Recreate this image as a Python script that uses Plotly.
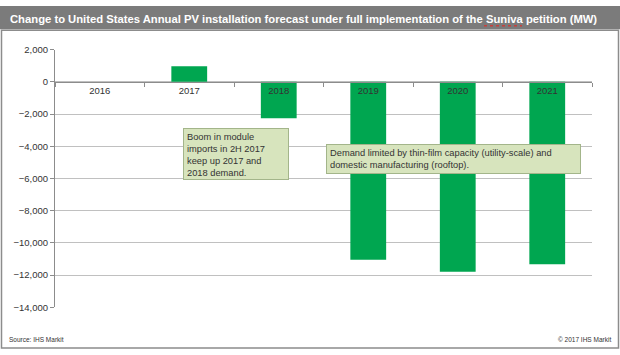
import plotly.graph_objects as go

years = ["2016", "2017", "2018", "2019", "2020", "2021"]
change_mw = [0, 960, -2260, -11050, -11790, -11330]
y_ticks = [2000, 0, -2000, -4000, -6000, -8000, -10000, -12000, -14000]

title_text = "Change to United States Annual PV installation forecast under full implementation of the Suniva petition (MW)"
note1 = "Boom in module<br>imports in 2H 2017<br>keep up 2017 and<br>2018 demand."
note2 = "Demand limited by thin-film capacity (utility-scale) and<br>domestic manufacturing (rooftop)."
source_text = "Source: IHS Markit"
copyright_text = "© 2017 IHS Markit"

W, H = 620, 355
def px(x):
    return x / W
def py(y):
    return 1 - y / H

FONT = "Liberation Sans, Arial, sans-serif"
TXT = "#333333"

y0d, y1d = py(311), py(45)
ymin, ymax = -14000, 2000
zero_pos = y0d + (0 - ymin) / (ymax - ymin) * (y1d - y0d)

fig = go.Figure()
fig.add_trace(go.Bar(x=years, y=change_mw, marker=dict(color="#00A650", line=dict(width=0)),
                     hoverinfo="x+y"))

fig.update_layout(
    width=W, height=H, autosize=False,
    margin=dict(l=0, r=0, t=0, b=0),
    paper_bgcolor="white", plot_bgcolor="white",
    showlegend=False, bargap=0.6,
    font=dict(family=FONT, color=TXT),
    xaxis=dict(domain=[px(55), px(592)], anchor="free", position=zero_pos,
               type="category", showline=True, linecolor="#8c8c8c", linewidth=1,
               ticks="outside", tickson="boundaries", ticklen=4, tickcolor="#8c8c8c",
               tickfont=dict(size=9.5, color=TXT), showgrid=False, fixedrange=True),
    yaxis=dict(domain=[y0d, y1d], range=[ymin, ymax], tickvals=y_ticks,
               tickformat=",", showgrid=True, gridcolor="#c0c0c0", gridwidth=1,
               showline=True, linecolor="#8c8c8c", linewidth=1, ticks="outside",
               ticklen=4, tickcolor="#8c8c8c", zeroline=False,
               tickfont=dict(size=9.5, color=TXT), fixedrange=True),
)

shapes = [
    dict(type="rect", xref="paper", yref="paper", x0=px(1.5), x1=px(618.5), y0=py(353), y1=py(25),
         line=dict(color="#8c8c8c", width=1.5), fillcolor="rgba(0,0,0,0)", layer="below"),
    dict(type="rect", xref="paper", yref="paper", x0=0, x1=1, y0=py(24), y1=1,
         line=dict(width=0), fillcolor="#7b7b7b", layer="below"),
    dict(type="line", xref="paper", yref="paper", x0=px(484), x1=px(522), y0=py(20.5), y1=py(20.5),
         line=dict(color="#c8403c", width=1.5, dash="dot")),
]
fig.update_layout(shapes=shapes)

ann = [
    dict(text="<b>" + title_text + "</b>", xref="paper", yref="paper", x=px(8), y=py(13),
         xanchor="left", yanchor="middle", showarrow=False,
         font=dict(size=11.25, color="white", family=FONT)),
    dict(text=note1, xref="paper", yref="paper", x=px(183), y=py(126), xanchor="left", yanchor="top",
         showarrow=False, align="left", valign="top", width=98, height=44,
         bgcolor="#d7e4bd", bordercolor="#a3b58a", borderwidth=1, borderpad=3,
         font=dict(size=9.3, color=TXT)),
    dict(text=note2, xref="paper", yref="paper", x=px(326), y=py(142), xanchor="left", yanchor="top",
         showarrow=False, align="left", valign="top", width=247, height=22,
         bgcolor="#d7e4bd", bordercolor="#a3b58a", borderwidth=1, borderpad=3,
         font=dict(size=9.3, color=TXT)),
    dict(text=source_text, xref="paper", yref="paper", x=px(7), y=py(344), xanchor="left",
         yanchor="middle", showarrow=False, font=dict(size=6.5, color=TXT)),
    dict(text=copyright_text, xref="paper", yref="paper", x=px(613), y=py(344), xanchor="right",
         yanchor="middle", showarrow=False, font=dict(size=6.5, color=TXT)),
]
fig.update_layout(annotations=ann)

fig.write_html("out.html", config={"displayModeBar": False},
               post_script="document.body.style.margin='0';document.body.style.overflow='hidden';"
                           "document.documentElement.style.overflow='hidden';")
